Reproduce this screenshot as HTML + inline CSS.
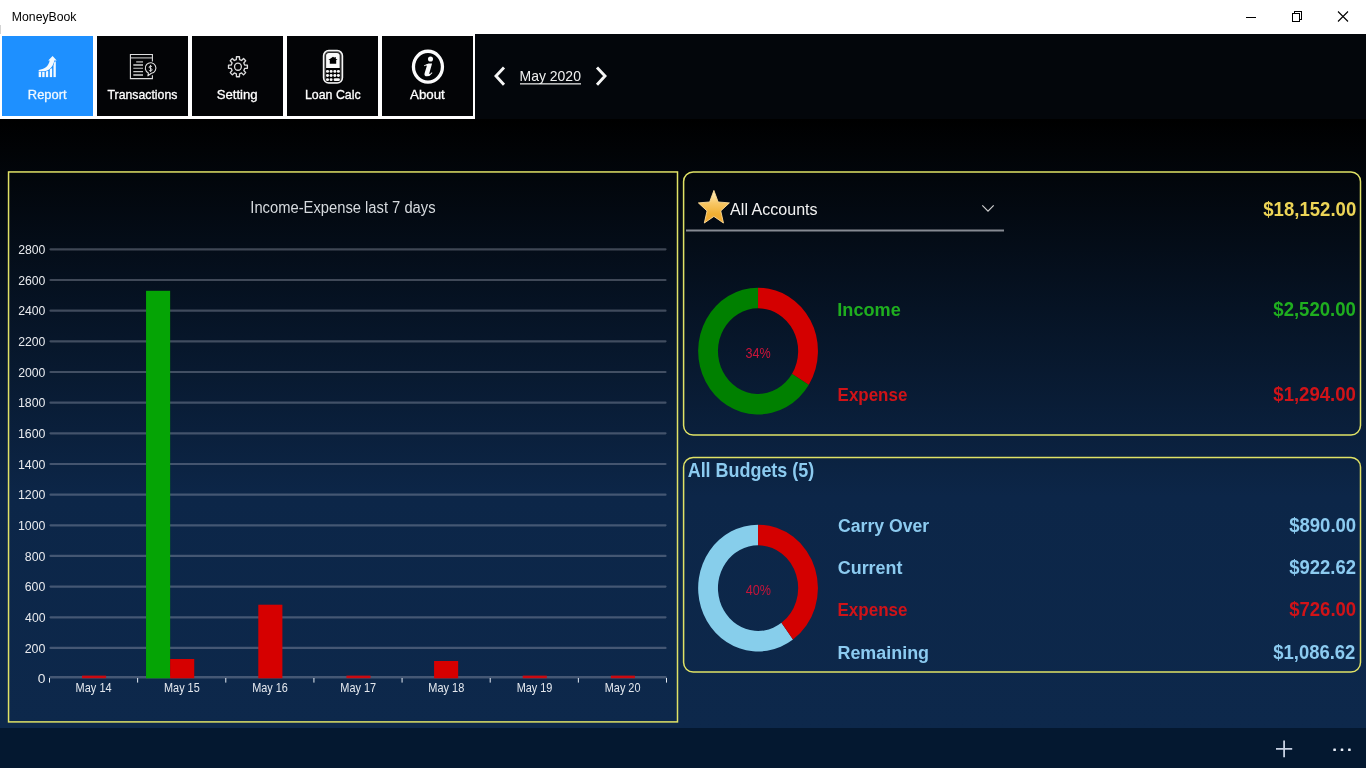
<!DOCTYPE html>
<html><head><meta charset="utf-8"><title>MoneyBook</title>
<style>
html,body{margin:0;padding:0;width:1366px;height:768px;overflow:hidden;background:#000;}
body{font-family:"Liberation Sans", sans-serif;}
svg{position:absolute;left:0;top:0;display:block;will-change:transform;}
text{font-family:"Liberation Sans", sans-serif;}
</style></head><body>
<svg width="1366" height="768" viewBox="0 0 1366 768">
<defs>
<linearGradient id="bg" x1="0" y1="0" x2="0" y2="1"><stop offset="0" stop-color="#000000"/><stop offset="0.62" stop-color="#0c2648"/><stop offset="1" stop-color="#0d284b"/></linearGradient>
<linearGradient id="star" x1="0" y1="0" x2="0" y2="1"><stop offset="0" stop-color="#fff2c4"/><stop offset="0.38" stop-color="#f8c868"/><stop offset="0.72" stop-color="#f0b034"/><stop offset="1" stop-color="#f2a832"/></linearGradient>
</defs>
<rect x="0" y="0" width="1366" height="34" fill="#ffffff"/>
<rect x="0" y="25" width="1" height="9" fill="#d4d4d4"/>
<rect x="0" y="34" width="1366" height="85" fill="#03060b"/>
<rect x="0" y="119" width="1366" height="609" fill="url(#bg)"/>
<rect x="0" y="728" width="1366" height="40" fill="#041830"/>
<g stroke="#000" stroke-width="1" fill="none" shape-rendering="crispEdges"><path d="M1246 17.5H1256"/><path d="M1292.5 13.5H1299.5V21.5H1292.5Z"/><path d="M1294.5 13.5V11.5H1301.5V19.5H1299.5"/></g>
<g stroke="#000" stroke-width="1.1" fill="none"><path d="M1338 11.5L1348 21.5M1348 11.5L1338 21.5"/></g>
<rect x="0" y="34" width="475" height="85" fill="#ffffff"/>
<rect x="2" y="36" width="91" height="80" fill="#1e90ff"/>
<rect x="97" y="36" width="91" height="80" fill="#030406"/>
<rect x="192" y="36" width="91" height="80" fill="#030406"/>
<rect x="287" y="36" width="91" height="80" fill="#030406"/>
<rect x="382" y="36" width="91" height="80" fill="#030406"/>
<g fill="#f4faff"><rect x="38.7" y="70.4" width="2.4" height="6.7"/><rect x="42.2" y="71.8" width="2.4" height="5.3"/><rect x="45.9" y="70.8" width="2.3" height="6.3"/><rect x="49.8" y="68.3" width="2.3" height="8.8"/><rect x="53.5" y="61.5" width="2.3" height="15.6"/><path d="M38.7 69.9 C44 69.2 48.8 66.4 49.7 60.5 L48.2 60.5 L52.6 56.1 L56.7 60.5 L54.2 60.5 C53.6 65.8 50 70.4 44.5 71.3 L38.7 71.3 Z" stroke="#1e90ff" stroke-width="1.1" paint-order="stroke"/></g>
<g stroke="#dedede" fill="none" stroke-width="1.1"><path d="M152.4 61.4V54.5H130.4V78.6H152.4V75.2"/><path d="M131 57.9H152" stroke-width="1.3" stroke="#a8a8a8"/><path d="M136.2 61.9H143" stroke-width="1.3" stroke="#bcbcbc"/><path d="M133.3 65.1H143M133.3 75H143" stroke-width="1.5" stroke="#d4d4d4"/><path d="M133.3 68.3H143M133.3 71.6H143" stroke-width="1.1" stroke="#c8c8c8"/><path d="M148.4 72.9 A5.3 5.3 0 1 1 151.4 73.3 L147.9 75.8 Z" stroke-width="1.1" stroke-linejoin="round"/></g>
<path d="M152 66.9 C151.3 65.7 149.1 65.8 149.1 67.2 C149.1 68.7 152.1 68.1 152.1 69.8 C152.1 71.3 149.7 71.3 148.9 70.1 M150.55 64.9 V71.9" fill="none" stroke="#e2e2e2" stroke-width="0.95"/>
<path d="M236.34 59.59 L236.46 56.7 L239.44 56.7 L239.56 59.59 L241.56 60.46 L243.56 58.51 L245.68 60.75 L243.83 62.88 L244.66 64.99 L247.38 65.12 L247.38 68.28 L244.66 68.41 L243.83 70.52 L245.68 72.65 L243.56 74.89 L241.56 72.94 L239.56 73.81 L239.44 76.7 L236.46 76.7 L236.34 73.81 L234.34 72.94 L232.34 74.89 L230.22 72.65 L232.07 70.52 L231.24 68.41 L228.52 68.28 L228.52 65.12 L231.24 64.99 L232.07 62.88 L230.22 60.75 L232.34 58.51 L234.34 60.46 Z" fill="none" stroke="#dcdcdc" stroke-width="1.35" stroke-linejoin="round"/><ellipse cx="237.95" cy="66.7" rx="3.4" ry="3.55" fill="none" stroke="#dcdcdc" stroke-width="1.3"/>
<g><rect x="323.55" y="50.6" width="18.9" height="32.4" rx="5.2" ry="5.2" fill="#5a5a5a" stroke="#f6f6f6" stroke-width="1.5"/><rect x="325.5" y="52.5" width="15" height="29.4" rx="3" ry="3" fill="#000"/><path d="M326.1 68 V55.6 Q326.1 52.9 328.8 52.9 H337 Q339.7 52.9 339.7 55.6 V68 Z" fill="#fafafa"/><path d="M333 56.7 L337.6 59.9 H336.2 V63.8 H329.8 V59.9 H328.4 Z" fill="#000"/><rect x="334.5" y="57" width="1.2" height="2.2" fill="#000"/><rect x="326" y="70.05" width="3" height="2.8" rx="1.3" fill="#f6f6f6"/><rect x="329.6" y="70.05" width="3" height="2.8" rx="1.3" fill="#f6f6f6"/><rect x="333.35" y="70.05" width="3" height="2.8" rx="1.3" fill="#f6f6f6"/><rect x="336.9" y="70.05" width="3" height="2.8" rx="1.3" fill="#f6f6f6"/><rect x="326" y="74.1" width="3" height="2.8" rx="1.3" fill="#f6f6f6"/><rect x="329.6" y="74.1" width="3" height="2.8" rx="1.3" fill="#f6f6f6"/><rect x="333.35" y="74.1" width="3" height="2.8" rx="1.3" fill="#f6f6f6"/><rect x="336.9" y="74.1" width="3" height="2.8" rx="1.3" fill="#f6f6f6"/><rect x="326" y="78.2" width="3" height="2.8" rx="1.3" fill="#f6f6f6"/><rect x="329.6" y="78.2" width="3" height="2.8" rx="1.3" fill="#f6f6f6"/><rect x="333.6" y="78.2" width="6.3" height="2.8" rx="1.3" fill="#f6f6f6"/></g>
<ellipse cx="427.95" cy="66.65" rx="14.5" ry="15.4" fill="none" stroke="#fbfbfb" stroke-width="3.3"/>
<circle cx="430.5" cy="59" r="2.55" fill="#fbfbfb"/><path d="M424 65.6 Q426.5 63.6 428.6 63.4 L432.1 63.4 L429.3 73.2 Q429.1 74.3 430 73.9 L431.9 72.2 L432.4 72.9 Q430 76.3 427 76.3 Q423.8 76.3 424.6 73.2 L426.8 66 Q426.9 65.2 425.8 65.6 L424.3 66.3 Z" fill="#fbfbfb"/>
<g fill="none" stroke="#f6f6f6" stroke-width="2.9" stroke-linejoin="miter"><path d="M504 67.6 L496 76.1 L504 84.8"/><path d="M597 67.6 L605 76.1 L597 84.8"/></g>
<rect x="520" y="83.2" width="61" height="1.3" fill="#e0e0e0"/>
<rect x="8.55" y="171.95" width="668.95" height="549.95" fill="none" stroke="#e0e266" stroke-width="1.5"/>
<g stroke="#a8b0c0" stroke-opacity="0.36" stroke-width="2.2" stroke-linecap="round"><path d="M50.5 647.94H665.5"/><path d="M50.5 617.28H665.5"/><path d="M50.5 586.62H665.5"/><path d="M50.5 555.96H665.5"/><path d="M50.5 525.3H665.5"/><path d="M50.5 494.64H665.5"/><path d="M50.5 463.98H665.5"/><path d="M50.5 433.32H665.5"/><path d="M50.5 402.66H665.5"/><path d="M50.5 372H665.5"/><path d="M50.5 341.34H665.5"/><path d="M50.5 310.68H665.5"/><path d="M50.5 280.02H665.5"/><path d="M50.5 249.36H665.5"/><path d="M50.5 677.3H665.5" stroke-width="2.4"/></g>
<rect x="82" y="675.6" width="24.1" height="2.6" fill="#cc0a10"/><rect x="146.04" y="290.8" width="24.1" height="387.5" fill="#05a405"/><rect x="170.14" y="659" width="24.1" height="19.3" fill="#d60000"/><rect x="258.29" y="604.7" width="24.1" height="73.6" fill="#d60000"/><rect x="346.43" y="675.6" width="24.1" height="2.6" fill="#cc0a10"/><rect x="434.07" y="661" width="24.1" height="17.3" fill="#d60000"/><rect x="522.71" y="675.6" width="24.1" height="2.6" fill="#cc0a10"/><rect x="610.86" y="675.6" width="24.1" height="2.6" fill="#cc0a10"/>
<g stroke="#e6ecf4" stroke-width="1"><path d="M49.5 678V682.6"/><path d="M137.64 678V682.6"/><path d="M225.79 678V682.6"/><path d="M313.93 678V682.6"/><path d="M402.07 678V682.6"/><path d="M490.21 678V682.6"/><path d="M578.36 678V682.6"/><path d="M666.5 678V682.6"/></g>
<rect x="683.6" y="171.95" width="676.9" height="263" rx="9.5" ry="9.5" fill="none" stroke="#e0e266" stroke-width="1.5"/>
<rect x="683.6" y="457.4" width="676.9" height="214.6" rx="9.5" ry="9.5" fill="none" stroke="#e0e266" stroke-width="1.5"/>
<path d="M713.9 190.44 L718.13 202.01 L729.4 202.88 L720.75 210.91 L723.48 223.02 L713.9 216.41 L704.32 223.02 L707.05 210.91 L698.4 202.88 L709.67 202.01 Z" fill="url(#star)" stroke="#ffdc98" stroke-width="0.9" stroke-linejoin="round"/>
<rect x="686" y="229.5" width="318" height="2" fill="#868a92"/>
<path d="M982.3 205.4 L988 211.2 L993.7 205.4" fill="none" stroke="#cfcfcf" stroke-width="1.2"/>
<path d="M808.85 384.7 A59.9 63.4 0 1 1 758.05 287.7 L758.05 308.3 A40.1 42.8 0 1 0 792.06 373.78 Z" fill="#008000"/><path d="M758.05 287.7 A59.9 63.4 0 0 1 808.85 384.7 L792.06 373.78 A40.1 42.8 0 0 0 758.05 308.3 Z" fill="#d40000"/>
<path d="M793 639.59 A59.9 63.4 0 1 1 758.05 524.7 L758.05 545.3 A40.1 42.8 0 1 0 781.45 622.86 Z" fill="#87ceeb"/><path d="M758.05 524.7 A59.9 63.4 0 0 1 793 639.59 L781.45 622.86 A40.1 42.8 0 0 0 758.05 545.3 Z" fill="#d40000"/>
<path d="M1276 748.8H1292.2M1284.1 740.4V757.2" stroke="#c6d0e2" stroke-width="1.8" fill="none"/>
<rect x="1333.3" y="748.5" width="2.6" height="2.6" rx="0.6" fill="#e8eef8"/><rect x="1340.7" y="748.5" width="2.6" height="2.6" rx="0.6" fill="#e8eef8"/><rect x="1348.1" y="748.5" width="2.6" height="2.6" rx="0.6" fill="#e8eef8"/>
<text id="title" x="11.85" y="20.90" textLength="64.59" lengthAdjust="spacingAndGlyphs" font-size="12" font-weight="normal" fill="#000">MoneyBook</text>
<text id="tab0" x="27.86" y="99.40" textLength="38.75" lengthAdjust="spacingAndGlyphs" font-size="12.9" font-weight="normal" fill="#f0f8ff" stroke="#f0f8ff" stroke-width="0.3">Report</text>
<text id="tab1" x="107.50" y="99.40" textLength="69.90" lengthAdjust="spacingAndGlyphs" font-size="12.9" font-weight="normal" fill="#ffffff" stroke="#ffffff" stroke-width="0.3">Transactions</text>
<text id="tab2" x="216.68" y="99.40" textLength="41.03" lengthAdjust="spacingAndGlyphs" font-size="12.9" font-weight="normal" fill="#ffffff" stroke="#ffffff" stroke-width="0.3">Setting</text>
<text id="tab3" x="304.92" y="99.40" textLength="55.79" lengthAdjust="spacingAndGlyphs" font-size="12.9" font-weight="normal" fill="#ffffff" stroke="#ffffff" stroke-width="0.3">Loan Calc</text>
<text id="tab4" x="410.02" y="99.40" textLength="34.78" lengthAdjust="spacingAndGlyphs" font-size="12.9" font-weight="normal" fill="#ffffff" stroke="#ffffff" stroke-width="0.3">About</text>
<text id="month" x="519.53" y="81.30" textLength="61.42" lengthAdjust="spacingAndGlyphs" font-size="14.5" font-weight="normal" fill="#f0f0f0">May 2020</text>
<text id="ctitle" x="250.33" y="212.90" textLength="185.22" lengthAdjust="spacingAndGlyphs" font-size="15.6" font-weight="normal" fill="#d6dade">Income-Expense last 7 days</text>
<text id="y0" x="37.87" y="683.30" textLength="7.69" lengthAdjust="spacingAndGlyphs" font-size="13" font-weight="normal" fill="#e8eaee">0</text>
<text id="y200" x="24.65" y="652.64" textLength="20.77" lengthAdjust="spacingAndGlyphs" font-size="13" font-weight="normal" fill="#e8eaee">200</text>
<text id="y400" x="25.12" y="621.98" textLength="20.37" lengthAdjust="spacingAndGlyphs" font-size="13" font-weight="normal" fill="#e8eaee">400</text>
<text id="y600" x="24.74" y="591.32" textLength="20.63" lengthAdjust="spacingAndGlyphs" font-size="13" font-weight="normal" fill="#e8eaee">600</text>
<text id="y800" x="24.81" y="560.66" textLength="20.67" lengthAdjust="spacingAndGlyphs" font-size="13" font-weight="normal" fill="#e8eaee">800</text>
<text id="y1000" x="17.90" y="530.00" textLength="27.50" lengthAdjust="spacingAndGlyphs" font-size="13" font-weight="normal" fill="#e8eaee">1000</text>
<text id="y1200" x="17.90" y="499.34" textLength="27.50" lengthAdjust="spacingAndGlyphs" font-size="13" font-weight="normal" fill="#e8eaee">1200</text>
<text id="y1400" x="17.90" y="468.68" textLength="27.50" lengthAdjust="spacingAndGlyphs" font-size="13" font-weight="normal" fill="#e8eaee">1400</text>
<text id="y1600" x="17.90" y="438.02" textLength="27.50" lengthAdjust="spacingAndGlyphs" font-size="13" font-weight="normal" fill="#e8eaee">1600</text>
<text id="y1800" x="17.90" y="407.36" textLength="27.50" lengthAdjust="spacingAndGlyphs" font-size="13" font-weight="normal" fill="#e8eaee">1800</text>
<text id="y2000" x="18.14" y="376.70" textLength="27.26" lengthAdjust="spacingAndGlyphs" font-size="13" font-weight="normal" fill="#e8eaee">2000</text>
<text id="y2200" x="18.14" y="346.04" textLength="27.26" lengthAdjust="spacingAndGlyphs" font-size="13" font-weight="normal" fill="#e8eaee">2200</text>
<text id="y2400" x="18.14" y="315.38" textLength="27.26" lengthAdjust="spacingAndGlyphs" font-size="13" font-weight="normal" fill="#e8eaee">2400</text>
<text id="y2600" x="18.14" y="284.72" textLength="27.26" lengthAdjust="spacingAndGlyphs" font-size="13" font-weight="normal" fill="#e8eaee">2600</text>
<text id="y2800" x="18.14" y="254.06" textLength="27.26" lengthAdjust="spacingAndGlyphs" font-size="13" font-weight="normal" fill="#e8eaee">2800</text>
<text id="x0" x="75.60" y="691.80" textLength="36.01" lengthAdjust="spacingAndGlyphs" font-size="13" font-weight="normal" fill="#e4e8ee">May 14</text>
<text id="x1" x="164.05" y="691.80" textLength="35.64" lengthAdjust="spacingAndGlyphs" font-size="13" font-weight="normal" fill="#e4e8ee">May 15</text>
<text id="x2" x="252.23" y="691.80" textLength="35.67" lengthAdjust="spacingAndGlyphs" font-size="13" font-weight="normal" fill="#e4e8ee">May 16</text>
<text id="x3" x="340.27" y="691.80" textLength="35.90" lengthAdjust="spacingAndGlyphs" font-size="13" font-weight="normal" fill="#e4e8ee">May 17</text>
<text id="x4" x="428.31" y="691.80" textLength="35.96" lengthAdjust="spacingAndGlyphs" font-size="13" font-weight="normal" fill="#e4e8ee">May 18</text>
<text id="x5" x="516.63" y="691.80" textLength="35.76" lengthAdjust="spacingAndGlyphs" font-size="13" font-weight="normal" fill="#e4e8ee">May 19</text>
<text id="x6" x="604.81" y="691.80" textLength="35.67" lengthAdjust="spacingAndGlyphs" font-size="13" font-weight="normal" fill="#e4e8ee">May 20</text>
<text id="acc" x="730.11" y="214.80" textLength="87.50" lengthAdjust="spacingAndGlyphs" font-size="16" font-weight="normal" fill="#f2f2f2">All Accounts</text>
<text id="total" x="1263.28" y="215.90" textLength="92.97" lengthAdjust="spacingAndGlyphs" font-size="19.3" font-weight="bold" fill="#ecd456">$18,152.00</text>
<text id="inc" x="837.35" y="316.10" textLength="63.38" lengthAdjust="spacingAndGlyphs" font-size="18.9" font-weight="bold" fill="#1fae1f">Income</text>
<text id="incv" x="1273.31" y="316.30" textLength="82.64" lengthAdjust="spacingAndGlyphs" font-size="19.3" font-weight="bold" fill="#1fae1f">$2,520.00</text>
<text id="exp" x="837.59" y="400.90" textLength="69.77" lengthAdjust="spacingAndGlyphs" font-size="18.9" font-weight="bold" fill="#d01318">Expense</text>
<text id="expv" x="1273.31" y="401.20" textLength="82.64" lengthAdjust="spacingAndGlyphs" font-size="19.3" font-weight="bold" fill="#d01318">$1,294.00</text>
<text id="p34" x="745.62" y="358.00" textLength="25.19" lengthAdjust="spacingAndGlyphs" font-size="14" font-weight="normal" fill="#cc143a">34%</text>
<text id="bud" x="687.68" y="477.00" textLength="126.56" lengthAdjust="spacingAndGlyphs" font-size="19.3" font-weight="bold" fill="#8ccbf0">All Budgets (5)</text>
<text id="co" x="838.01" y="532.30" textLength="91.09" lengthAdjust="spacingAndGlyphs" font-size="18.9" font-weight="bold" fill="#8ccbf0">Carry Over</text>
<text id="cov" x="1289.17" y="531.80" textLength="67.02" lengthAdjust="spacingAndGlyphs" font-size="19.3" font-weight="bold" fill="#8ccbf0">$890.00</text>
<text id="cu" x="837.79" y="573.90" textLength="64.67" lengthAdjust="spacingAndGlyphs" font-size="18.9" font-weight="bold" fill="#8ccbf0">Current</text>
<text id="cuv" x="1289.25" y="574.10" textLength="66.66" lengthAdjust="spacingAndGlyphs" font-size="19.3" font-weight="bold" fill="#8ccbf0">$922.62</text>
<text id="ex2" x="837.53" y="616.20" textLength="69.94" lengthAdjust="spacingAndGlyphs" font-size="18.9" font-weight="bold" fill="#d01318">Expense</text>
<text id="ex2v" x="1289.17" y="616.40" textLength="67.02" lengthAdjust="spacingAndGlyphs" font-size="19.3" font-weight="bold" fill="#d01318">$726.00</text>
<text id="re" x="837.45" y="658.90" textLength="91.62" lengthAdjust="spacingAndGlyphs" font-size="18.9" font-weight="bold" fill="#8ccbf0">Remaining</text>
<text id="rev" x="1273.31" y="658.90" textLength="82.06" lengthAdjust="spacingAndGlyphs" font-size="19.3" font-weight="bold" fill="#8ccbf0">$1,086.62</text>
<text id="p40" x="745.73" y="595.00" textLength="25.21" lengthAdjust="spacingAndGlyphs" font-size="14" font-weight="normal" fill="#c4143a">40%</text>
</svg>
</body></html>
